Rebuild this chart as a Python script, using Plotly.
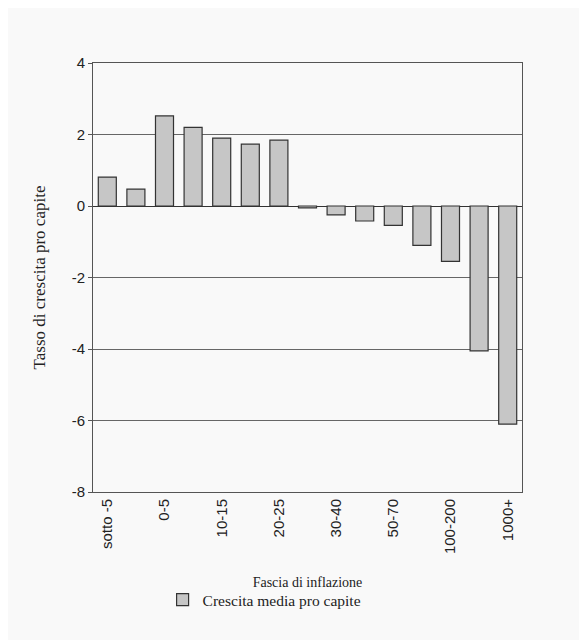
import plotly.graph_objects as go

categories = ["sotto -5", "-5-0", "0-5", "5-10", "10-15", "15-20", "20-25", "25-30",
              "30-40", "40-50", "50-70", "70-100", "100-200", "200-1000", "1000+"]
values = [0.81, 0.47, 2.52, 2.2, 1.9, 1.73, 1.84, -0.05, -0.25, -0.42, -0.54, -1.1, -1.55, -4.05, -6.1]
shown_labels = categories[::2]
y_ticks = [4, 2, 0, -2, -4, -6, -8]

fig = go.Figure()
fig.add_trace(go.Bar(
    x=categories, y=values, name="Crescita media pro capite",
    marker=dict(color="#c6c6c6", line=dict(color="#333333", width=1.2)),
    showlegend=True,
))

fig.update_layout(
    width=587, height=640,
    paper_bgcolor="#f9f9f9", plot_bgcolor="#f9f9f9",
    margin=dict(l=85, r=73, t=55, b=156),
    bargap=0.37,
    font=dict(family="Liberation Serif", color="#222222"),
    xaxis=dict(
        tickmode="array", tickvals=shown_labels, ticktext=shown_labels,
        tickangle=-90, tickfont=dict(family="Liberation Sans", size=15, color="#222"),
        showline=True, linecolor="#555", linewidth=1, mirror=True,
        showgrid=False, ticks="",
        title=dict(text="Fascia di inflazione", font=dict(family="Liberation Serif", size=14), standoff=24),
    ),
    yaxis=dict(
        range=[-8, 4], tickvals=y_ticks, ticktext=[str(v) for v in y_ticks],
        tickfont=dict(family="Liberation Sans", size=15, color="#222"),
        showline=True, linecolor="#555", linewidth=1, mirror=True,
        showgrid=True, gridcolor="#666", gridwidth=1,
        zeroline=True, zerolinecolor="#333", zerolinewidth=1.2,
        ticks="outside", ticklen=4, tickcolor="#555",
        title=dict(text="Tasso di crescita pro capite", font=dict(family="Liberation Serif", size=17), standoff=21),
    ),
    legend=dict(orientation="h", x=0.40, xanchor="center", y=-0.252, yanchor="middle",
                font=dict(family="Liberation Serif", size=15.5), bgcolor="rgba(0,0,0,0)",
                itemwidth=30),
)

fig.write_html("out.html")
